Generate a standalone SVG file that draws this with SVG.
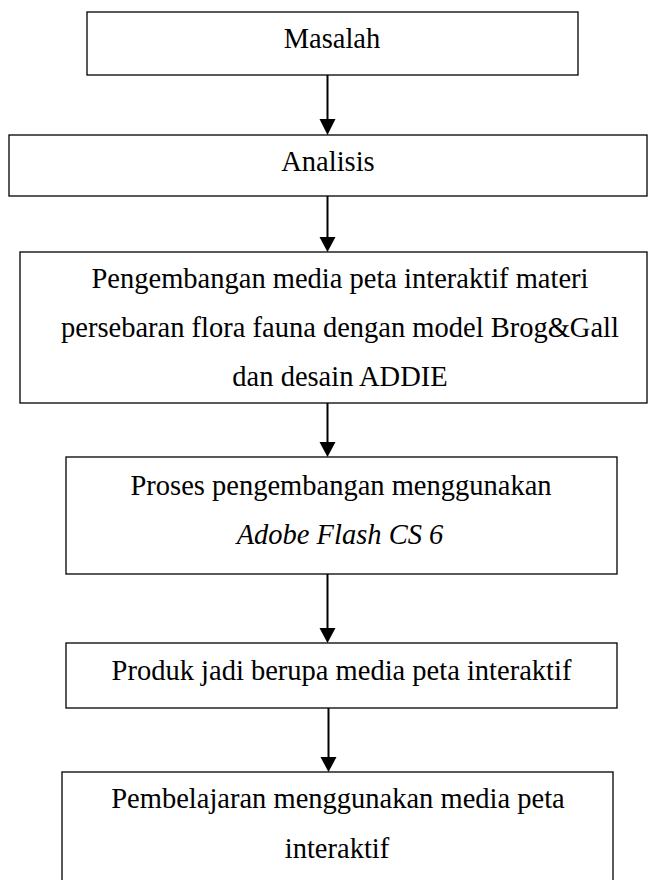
<svg xmlns="http://www.w3.org/2000/svg" width="648" height="880" viewBox="0 0 648 880">
<style>
.box{fill:#ffffff;stroke:#000000;stroke-width:1.3}
.t{font-family:"Liberation Serif","Times New Roman",serif;font-size:28.5px;fill:#000000;text-anchor:middle}
.i{font-style:italic}
.c{stroke:#000000;stroke-width:2;fill:none}
.h{fill:#000000}
</style>
<rect width="648" height="880" fill="#ffffff"/>
<g id="connectors">
<line class="c" x1="327.5" y1="75" x2="327.5" y2="121"/>
<polygon class="h" points="319.5,119 335.5,119 327.5,135"/>
<line class="c" x1="327.5" y1="196" x2="327.5" y2="238"/>
<polygon class="h" points="319.5,237 335.5,237 327.5,252"/>
<line class="c" x1="327.5" y1="403" x2="327.5" y2="443"/>
<polygon class="h" points="319.5,442 335.5,442 327.5,457"/>
<line class="c" x1="327.5" y1="574" x2="327.5" y2="629"/>
<polygon class="h" points="319.5,628 335.5,628 327.5,643"/>
<line class="c" x1="328.5" y1="708" x2="328.5" y2="758"/>
<polygon class="h" points="320.5,757 336.5,757 328.5,772"/>
</g>
<g id="n1">
<rect class="box" x="87" y="12" width="491" height="63"/>
<text class="t" x="332" y="48">Masalah</text>
</g>
<g id="n2">
<rect class="box" x="9" y="135" width="638" height="61"/>
<text class="t" x="328" y="171">Analisis</text>
</g>
<g id="n3">
<rect class="box" x="20" y="252" width="627" height="151"/>
<text class="t" x="340" y="288">Pengembangan media peta interaktif materi</text>
<text class="t" x="340" y="337">persebaran flora fauna dengan model Brog&amp;Gall</text>
<text class="t" x="340" y="386">dan desain ADDIE</text>
</g>
<g id="n4">
<rect class="box" x="66" y="457" width="551" height="117"/>
<text class="t" x="341" y="495">Proses pengembangan menggunakan</text>
<text class="t i" x="340" y="544">Adobe Flash CS 6</text>
</g>
<g id="n5">
<rect class="box" x="66" y="643" width="551" height="65"/>
<text class="t" x="341.5" y="680">Produk jadi berupa media peta interaktif</text>
</g>
<g id="n6">
<rect class="box" x="62" y="772" width="551" height="120"/>
<text class="t" x="338" y="808">Pembelajaran menggunakan media peta</text>
<text class="t" x="337" y="858">interaktif</text>
</g>
</svg>
